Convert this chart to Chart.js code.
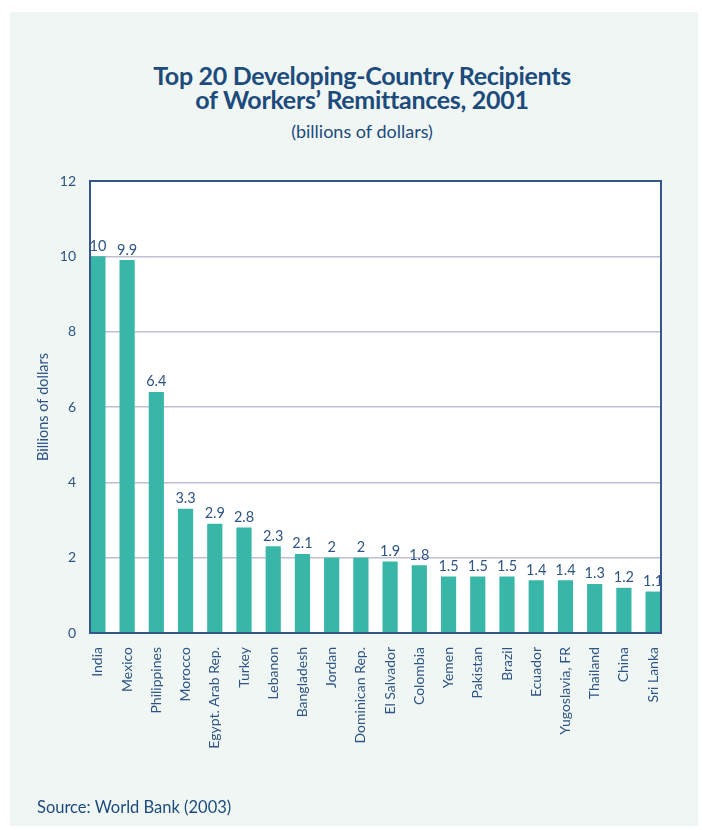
<!DOCTYPE html>
<html>
<head>
<meta charset="utf-8">
<script src="https://cdn.jsdelivr.net/npm/chart.js@4"></script>
<style>
  body { margin: 0; background: #fff; font-family: Lato, sans-serif; }
  #wrap { position: relative; width: 702px; height: 830px; }
  #panel { position: absolute; left: 10px; top: 12px; width: 688px; height: 814px; background: #f0f6f4; }
  #chart { position: absolute; left: 0; top: 0; }
  .title { position: absolute; left: 0; width: 724px; text-align: center; color: #1c4b7c; }
  #t1 { top: 63px; font-size: 25px; font-weight: bold; line-height: 24px; letter-spacing: -0.3px; }
  #t2 { top: 120px; font-size: 18px; }
  #src { position: absolute; left: 37px; top: 797px; font-size: 16.5px; color: #1c4b7c; }
</style>
</head>
<body>
<div id="wrap">
  <div id="panel"></div>
  <div class="title" id="t1">Top 20 Developing-Country Recipients<br>of Workers’ Remittances, 2001</div>
  <div class="title" id="t2">(billions of dollars)</div>
  <canvas id="chart" width="702" height="830"></canvas>
  <div id="src">Source: World Bank (2003)</div>
</div>
<script>
const countries = ['India', 'Mexico', 'Philippines', 'Morocco', 'Egypt. Arab Rep.', 'Turkey', 'Lebanon',
  'Bangladesh', 'Jordan', 'Dominican Rep.', 'El Salvador', 'Colombia', 'Yemen', 'Pakistan', 'Brazil',
  'Ecuador', 'Yugoslavia, FR', 'Thailand', 'China', 'Sri Lanka'];
const remittances = [10, 9.9, 6.4, 3.3, 2.9, 2.8, 2.3, 2.1, 2, 2, 1.9, 1.8, 1.5, 1.5, 1.5, 1.4, 1.4, 1.3, 1.2, 1.1];
const yTicks = [0, 2, 4, 6, 8, 10, 12];

const textBlue = '#2e5585';
const frameBlue = '#35568a';

// white plot area and frame around it
const frame = {
  id: 'frame',
  beforeDraw(chart) {
    const { ctx, chartArea: a } = chart;
    ctx.save();
    ctx.fillStyle = '#fff';
    ctx.fillRect(a.left, a.top, a.right - a.left, a.bottom - a.top);
    ctx.restore();
  },
  afterDraw(chart) {
    const { ctx, chartArea: a } = chart;
    ctx.save();
    ctx.strokeStyle = frameBlue;
    ctx.lineWidth = 2;
    ctx.strokeRect(a.left, a.top, a.right - a.left, a.bottom - a.top);
    ctx.restore();
  }
};

// value labels above the bars
const valueLabels = {
  id: 'valueLabels',
  afterDatasetsDraw(chart) {
    const { ctx } = chart;
    const meta = chart.getDatasetMeta(0);
    ctx.save();
    ctx.fillStyle = textBlue;
    ctx.font = '14.5px Lato';
    ctx.textAlign = 'center';
    ctx.textBaseline = 'bottom';
    meta.data.forEach((bar, i) => {
      ctx.fillText(String(remittances[i]), bar.x, bar.y - 3);
    });
    ctx.restore();
  }
};

new Chart(document.getElementById('chart'), {
  type: 'bar',
  data: {
    datasets: [{
      data: remittances.map((v, i) => ({ x: i, y: v })),
      backgroundColor: '#38b6a8',
      barPercentage: 0.52,
      categoryPercentage: 1
    }]
  },
  options: {
    responsive: false,
    animation: false,
    layout: { padding: { left: 30, right: 41, top: 181, bottom: 0 } },
    plugins: { legend: { display: false }, tooltip: { enabled: false } },
    scales: {
      x: {
        type: 'linear',
        offset: false,
        min: -0.27,
        max: 19.27,
        afterBuildTicks: s => { s.ticks = countries.map((c, i) => ({ value: i })); },
        afterFit: s => { s.height = 197; },
        grid: { display: false },
        border: { display: false },
        ticks: {
          autoSkip: false,
          minRotation: 90,
          maxRotation: 90,
          padding: 6,
          color: textBlue,
          font: { family: 'Lato', size: 14 },
          callback: v => countries[v]
        }
      },
      y: {
        min: 0,
        max: 12,
        afterBuildTicks: s => { s.ticks = yTicks.map(v => ({ value: v })); },
        afterFit: s => { s.width = 60; },
        grid: { color: '#bfbfd3', lineWidth: 1.5, drawTicks: false },
        border: { display: false },
        ticks: { padding: 14, color: textBlue, font: { family: 'Lato', size: 14 } },
        title: {
          display: true,
          text: 'Billions of dollars',
          color: textBlue,
          font: { family: 'Lato', size: 14.5 },
          padding: { top: 5, bottom: 0 }
        }
      }
    }
  },
  plugins: [frame, valueLabels]
});
</script>
</body>
</html>
